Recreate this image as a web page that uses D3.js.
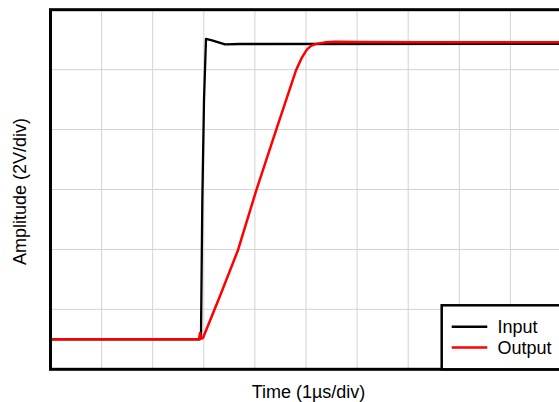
<!DOCTYPE html>
<html>
<head>
<meta charset="utf-8">
<script src="https://cdn.jsdelivr.net/npm/d3@7"></script>
<style>
  html, body { margin: 0; padding: 0; background: #fff; }
  svg { display: block; }
  text { font-family: "Liberation Sans", Arial, Helvetica, sans-serif; fill: #000; }
</style>
</head>
<body>
<svg id="chart" width="559" height="402"></svg>
<script>
// Data in divisions (x: 1µs/div, y: 2V/div)
const xTicks = [0,1,2,3,4,5,6,7,8,9,10];
const yTicks = [0,1,2,3,4,5,6];
const inputX = [0, 2.925, 2.945, 2.971, 3.004, 3.043, 3.16, 3.415, 3.708, 10];
const inputY = [0.5, 0.5, 0.538, 2.822, 4.488, 5.513, 5.488, 5.422, 5.428, 5.43];
const outputX = [0, 2.906, 2.926, 2.945, 2.984, 3.317, 3.669, 4.022, 4.413, 4.804, 4.922, 5.02, 5.098, 5.196, 5.372, 5.568, 6.057, 7.231, 10];
const outputY = [0.5, 0.5, 0.605, 0.513, 0.522, 1.222, 1.988, 2.972, 3.988, 4.988, 5.205, 5.338, 5.397, 5.43, 5.455, 5.467, 5.462, 5.455, 5.455];
const seriesNames = ["Input", "Output"];
const seriesColors = ["#000000", "#ff0000"];
const xLabel = "Time (1µs/div)";
const yLabel = "Amplitude (2V/div)";

(function () {
const svg = d3.select("#chart");
const pl = 50.5, pt = 9.7, pw = 511, ph = 359.6;
const x = d3.scaleLinear().domain([0, 10]).range([pl, pl + pw]);
const y = d3.scaleLinear().domain([0, 6]).range([pt + ph, pt]);

// grid
const g = svg.append("g");
g.selectAll("line.vx").data(xTicks.slice(1, -1)).enter().append("line")
  .attr("x1", d => x(d)).attr("x2", d => x(d))
  .attr("y1", pt).attr("y2", pt + ph)
  .attr("stroke", "#d3d3d3").attr("stroke-width", 1);
g.selectAll("line.hy").data(yTicks.slice(1, -1)).enter().append("line")
  .attr("y1", d => y(d)).attr("y2", d => y(d))
  .attr("x1", pl).attr("x2", pl + pw)
  .attr("stroke", "#d3d3d3").attr("stroke-width", 1);

const line = d3.line().x(d => x(d[0])).y(d => y(d[1])).curve(d3.curveLinear);
const inputData = inputX.map((v, i) => [v, inputY[i]]);
const outputData = outputX.map((v, i) => [v, outputY[i]]);

svg.append("path").datum(inputData).attr("d", line)
  .attr("fill", "none").attr("stroke", seriesColors[0]).attr("stroke-width", 2.3).attr("stroke-linejoin", "round");
svg.append("path").datum(outputData).attr("d", line)
  .attr("fill", "none").attr("stroke", seriesColors[1]).attr("stroke-width", 2.5).attr("stroke-linejoin", "round");

// border
svg.append("rect").attr("x", pl).attr("y", pt).attr("width", pw).attr("height", ph)
  .attr("fill", "none").attr("stroke", "#000").attr("stroke-width", 3);

// legend
const lg = svg.append("g");
lg.append("rect").attr("x", 441.7).attr("y", 305.3).attr("width", 130).attr("height", pt + ph - 305.3)
  .attr("fill", "#fff").attr("stroke", "#000").attr("stroke-width", 2.5);
const ly = [326.7, 347.5];
seriesNames.forEach((n, i) => {
  lg.append("line").attr("x1", 451.7).attr("x2", 487.3).attr("y1", ly[i]).attr("y2", ly[i])
    .attr("stroke", seriesColors[i]).attr("stroke-width", 2.5);
  lg.append("text").attr("x", 497.5).attr("y", ly[i] + 6.5).attr("font-size", 18).text(n);
});

// axis labels
svg.append("text").attr("x", 308.5).attr("y", 398).attr("text-anchor", "middle").attr("font-size", 18).text(xLabel);
svg.append("text").attr("transform", "translate(26,191.5) rotate(-90)").attr("text-anchor", "middle").attr("font-size", 18).text(yLabel);
})();
</script>
</body>
</html>
